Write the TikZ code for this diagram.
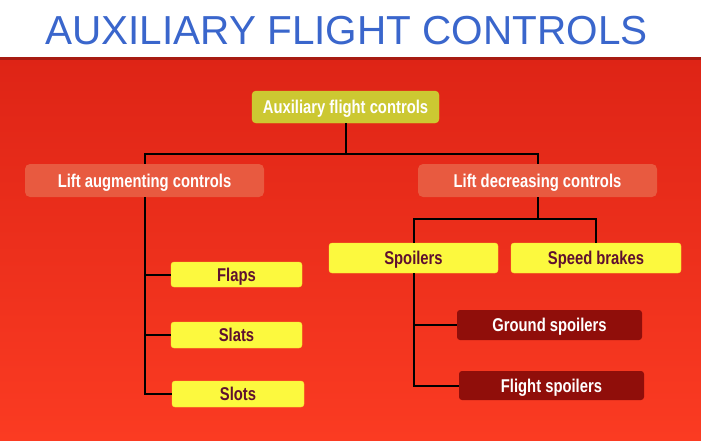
\documentclass[tikz,border=0pt]{standalone}
\usepackage{fontspec}
\setmainfont{Liberation Sans}
\newfontfamily\boxfont[FakeStretch=0.8]{Liberation Sans}
\usetikzlibrary{positioning}
\definecolor{titleblue}{HTML}{3A66CC}
\definecolor{bgtop}{HTML}{DE2416}
\definecolor{bgbottom}{HTML}{FB3B22}
\definecolor{rootfill}{HTML}{CCC832}
\definecolor{liftfill}{HTML}{E85A40}
\definecolor{leaffill}{HTML}{FCF93E}
\definecolor{leaftext}{HTML}{5E1030}
\definecolor{darkfill}{HTML}{900E0A}
\tikzset{
	x=1pt, y=-1pt,
	every node/.style={font=\boxfont\bfseries\fontsize{18.5}{20}\selectfont, inner sep=0pt, text height=13.3pt, text depth=0pt},
	rootbox/.style={fill=rootfill, draw=rootfill!80!yellow, rounded corners=4pt, text=white},
	liftbox/.style={fill=liftfill, rounded corners=5pt, text=white},
	leafbox/.style={fill=leaffill, draw=leaffill!85!orange, rounded corners=3pt, text=leaftext},
	darkbox/.style={fill=darkfill, rounded corners=3pt, text=white},
	link/.style={draw=black, line width=2pt},
}
\begin{document}
\begin{tikzpicture}
	% background
	\fill[white] (0,0) rectangle (701,57);
	\shade[top color=bgtop, bottom color=bgbottom] (0,57) rectangle (701,440);
	\fill[bgtop!75!black] (0,57) rectangle (701,59.5);
	\useasboundingbox (0,0) rectangle (701,440);

	\node[anchor=base west, font=\fontsize{40.5}{44}\selectfont, text=titleblue, text height=, text depth=] (title) at (45,44) {AUXILIARY FLIGHT CONTROLS};

	\node[rootbox, minimum width=187, minimum height=32] (root) at (345.5,107) {Auxiliary flight controls};
	\node[liftbox, minimum width=239, minimum height=33] (aug) at (144.5,180.5) {Lift augmenting controls};
	\node[liftbox, minimum width=239, minimum height=33] (dec) at (537.5,180.5) {Lift decreasing controls};

	\node[leafbox, minimum width=131, minimum height=25] (flaps) at (236.5,274.5) {Flaps};
	\node[leafbox, minimum width=131, minimum height=26] (slats) at (236.5,335) {Slats};
	\node[leafbox, minimum width=132, minimum height=26] (slots) at (238,394) {Slots};

	\node[leafbox, minimum width=169, minimum height=30] (spoilers) at (413.5,258) {Spoilers};
	\node[leafbox, minimum width=170, minimum height=30] (speed) at (596,258) {Speed brakes};

	\node[darkbox, minimum width=185, minimum height=30] (ground) at (549.5,325) {Ground spoilers};
	\node[darkbox, minimum width=185, minimum height=29] (flight) at (551.5,385.5) {Flight spoilers};

	% connectors
	\coordinate (top bus) at (345.5,154);
	\coordinate (dec bus) at (537.5,219);
	\draw[link] (root) -- (top bus);
	\draw[link] (aug.north) |- (top bus) -| (dec.north);
	\draw[link] (aug.south) |- (slots.west);
	\draw[link] (aug.south |- flaps.west) -- (flaps.west);
	\draw[link] (aug.south |- slats.west) -- (slats.west);
	\draw[link] (dec) -- (dec bus);
	\draw[link] (spoilers.north) |- (dec bus) -| (speed.north);
	\draw[link] (spoilers.south) |- (flight.west);
	\draw[link] (spoilers.south |- ground.west) -- (ground.west);
\end{tikzpicture}
\end{document}
